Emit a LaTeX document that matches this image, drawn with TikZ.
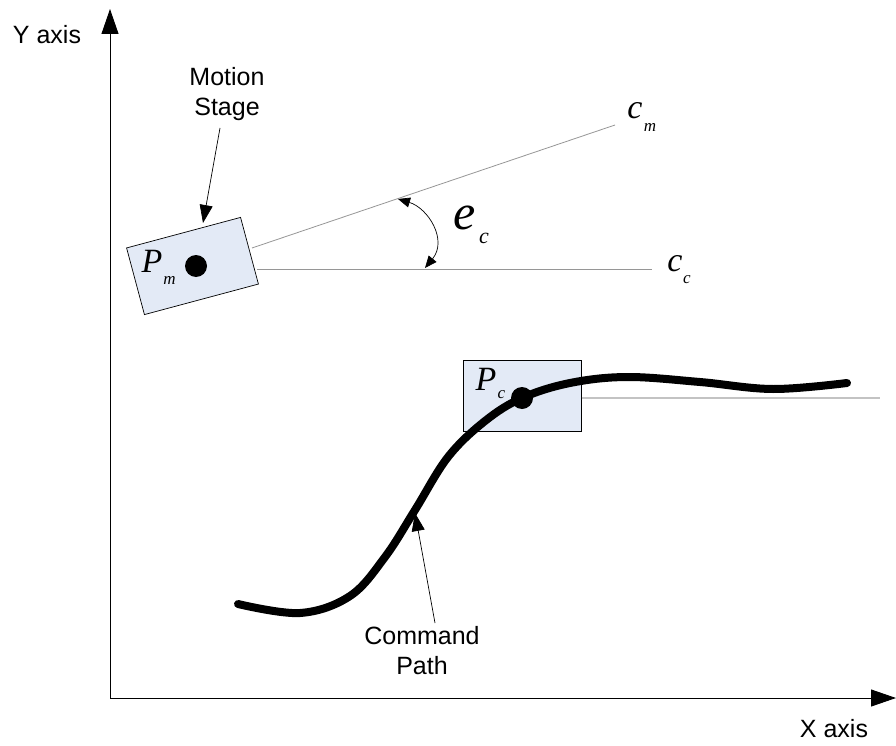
\documentclass[tikz,border=0pt]{standalone}
\usepackage{fontspec}
\setmainfont{Liberation Sans}
\newfontfamily\tnr{Liberation Serif}
\usetikzlibrary{arrows.meta}
\definecolor{boxfill}{RGB}{227,234,246}
\definecolor{linegray}{RGB}{150,150,150}
\definecolor{lightgray2}{RGB}{195,195,195}
\begin{document}
\begin{tikzpicture}[x=1pt,y=-1pt,
  lbl/.style={font=\fontsize{25}{30}\selectfont, align=center, inner sep=0},
  axisarrow/.style={line width=0.9pt, -{Triangle[length=25pt,width=17pt]}},
  callout/.style={line width=0.7pt, -{Triangle[length=18pt,width=13pt]}},
  anglearrow/.style={line width=0.7pt, {Triangle[length=12pt,width=10pt]}-{Triangle[length=12pt,width=10pt]}},
  stagebox/.style={draw=black, line width=0.7pt, fill=boxfill, inner sep=0},
  dot/.style={circle, fill=black, minimum size=22pt, inner sep=0},
  mathbig/.style={inner sep=0, font=\tnr\itshape\fontsize{34}{34}\selectfont},
  mathsub/.style={inner sep=0, font=\tnr\itshape\fontsize{17}{17}\selectfont}
]
\useasboundingbox (0,0) rectangle (896,746);

% axes
\coordinate (O) at (110,698);
\coordinate (ytip) at (110,9);
\coordinate (xtip) at (896,698);
\draw[axisarrow] (O) -- (ytip);
\draw[axisarrow] (O) -- (xtip);
\node[lbl] (ylbl) at (47,35) {Y axis};
\node[lbl] (xlbl) at (834,729) {X axis};

% motion stage
\node[stagebox, minimum width=118pt, minimum height=69pt, rotate=15] (pm) at (192.5,266) {};
\node[dot] (pmdot) at (196,266) {};
\node[mathbig] (pmP) at (152,261) {P};
\node[mathsub] (pmsub) at (169.5,280) {m};

\coordinate (cmstart) at (252,248);
\coordinate (cmend) at (615,125);
\coordinate (ccstart) at (257,269);
\coordinate (ccend) at (652,269);
\draw[linegray, line width=0.8pt] (cmstart) -- (cmend);
\draw[linegray, line width=0.8pt] (ccstart) -- (ccend);
\node[mathbig] (cmc) at (635,111) {c};
\node[mathsub] (cmsub) at (650,127) {m};
\node[mathbig] (ccc) at (675,264) {c};
\node[mathsub] (ccsub) at (687,280) {c};

% angle
\coordinate (a1) at (398,199);
\coordinate (a2) at (425,268);
\draw[anglearrow] (a1) .. controls (428,208) and (448,240) .. (a2);
\node[inner sep=0, font=\tnr\itshape\fontsize{50}{50}\selectfont] (ee) at (465,218) {e};
\node[inner sep=0, font=\tnr\itshape\fontsize{22}{22}\selectfont] (esub) at (484,238) {c};

\node[lbl] (ms) at (227,94) {Motion\\Stage};
\coordinate (mstail) at (220,128);
\coordinate (mstip) at (203,223);
\draw[callout] (mstail) -- (mstip);

% command box
\node[stagebox, minimum width=118pt, minimum height=71pt, anchor=north west] (pc) at (463,360) {};
\coordinate (pcline) at (880,398);
\draw[lightgray2, line width=1.2pt] (pc.east |- pcline) -- (pcline);

% command path
\draw[line width=8pt, line cap=round] plot[smooth, tension=0.6] coordinates {
 (238,604) (300,613) (350,596) (385,557) (415,510) (448,457) (485,421) (522,398) (570,383) (627,377) (700,382) (773,389) (847,383)};
\node[dot] (pcdot) at (522,398) {};
\node[mathbig] (pcP) at (486,379) {P};
\node[mathsub] (pcsub) at (501.5,395) {c};

\node[lbl] (cp) at (422,651) {Command\\Path};
\coordinate (cptail) at (435,623);
\coordinate (cptip) at (415,513);
\draw[callout] (cptail) -- (cptip);
\end{tikzpicture}
\end{document}
